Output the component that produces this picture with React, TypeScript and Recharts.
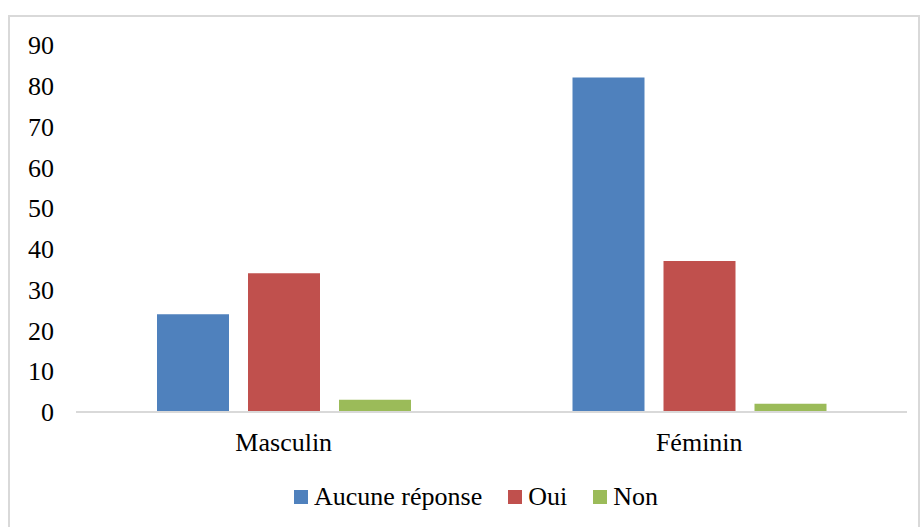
import React from 'react';
import { BarChart, Bar, XAxis, YAxis, Legend } from 'recharts';

const categories = ['Masculin', 'Féminin'];
const aucuneReponse = [24, 82];
const oui = [34, 37];
const non = [3, 2];
const yTicks = [0, 10, 20, 30, 40, 50, 60, 70, 80, 90];

const series = [
  { key: 'aucune', name: 'Aucune réponse', color: '#4F81BD' },
  { key: 'oui', name: 'Oui', color: '#C0504D' },
  { key: 'non', name: 'Non', color: '#9BBB59' },
];

const data = categories.map((c, i) => ({
  name: c,
  aucune: aucuneReponse[i],
  oui: oui[i],
  non: non[i],
}));

const FONT = '"Liberation Serif", "Times New Roman", serif';
const FS = 26;

const LegendContent = () => (
  <div style={{ display: 'flex', justifyContent: 'center', alignItems: 'center', fontFamily: FONT, fontSize: FS, lineHeight: '30px', color: '#000', paddingLeft: 22 }}>
    {series.map((s) => (
      <div key={s.key} style={{ display: 'flex', alignItems: 'center', margin: '0 13px' }}>
        <span style={{ display: 'inline-block', width: 14, height: 14, background: s.color, marginRight: 6 }} />
        <span>{s.name}</span>
      </div>
    ))}
  </div>
);

export default function App() {
  return (
    <div style={{ position: 'fixed', left: 0, top: 0, right: 0, bottom: 0, overflow: 'hidden', background: '#fff', fontFamily: FONT }}>
      <div style={{ position: 'absolute', left: 8, top: 15, width: 912, height: 520, border: '2px solid #d9d9d9', boxSizing: 'border-box' }}>
        <BarChart
          width={910}
          height={516}
          data={data}
          margin={{ top: 28, right: 13, left: 0, bottom: 61 }}
          barGap={19}
          barCategoryGap={81}
          style={{ fontFamily: FONT }}
        >
          <XAxis
            dataKey="name"
            axisLine={{ stroke: '#d9d9d9', strokeWidth: 2 }}
            tickLine={false}
            tickMargin={15}
            tick={{ fill: '#000', fontSize: FS, fontFamily: FONT }}
          />
          <YAxis
            domain={[0, 90]}
            ticks={yTicks}
            axisLine={false}
            tickLine={false}
            width={66}
            tickMargin={16}
            tick={{ fill: '#000', fontSize: FS, fontFamily: FONT }}
          />
          <Legend content={<LegendContent />} wrapperStyle={{ top: 465, left: 0, width: 910 }} />
          {series.map((s) => (
            <Bar key={s.key} dataKey={s.key} name={s.name} fill={s.color} barSize={72} isAnimationActive={false} />
          ))}
        </BarChart>
      </div>
    </div>
  );
}
